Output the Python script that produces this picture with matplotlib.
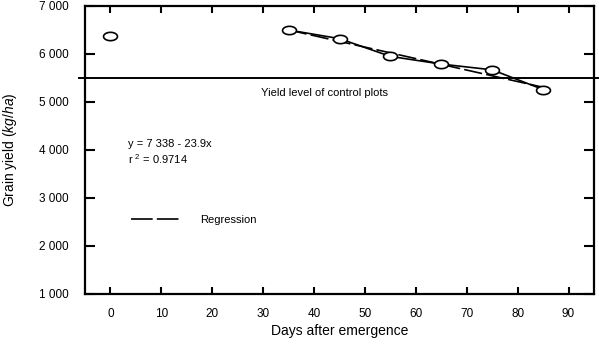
import numpy as np
import matplotlib
matplotlib.use("Agg")
import matplotlib.pyplot as plt
from matplotlib.path import Path
from matplotlib.lines import Line2D

plt.rcParams["font.family"] = ["Liberation Sans", "DejaVu Sans"]
plt.rcParams["mathtext.fontset"] = "custom"
plt.rcParams["mathtext.rm"] = "Liberation Sans"
plt.rcParams["mathtext.it"] = "Liberation Sans:italic"

# Grain yield observations by sowing/treatment day
days = [0, 35, 45, 55, 65, 75, 85]
grain_yield = [6380, 6500, 6320, 5950, 5790, 5670, 5260]

# Linear regression fitted to the late-treatment points
reg_intercept = 7338
reg_slope = -23.9
reg_r2 = 0.9714
reg_days = [35, 85]

control_level = 5500

x_ticks = [0, 10, 20, 30, 40, 50, 60, 70, 80, 90]
y_ticks = [1000, 2000, 3000, 4000, 5000, 6000, 7000]
y_tick_labels = ["1 000", "2 000", "3 000", "4 000", "5 000", "6 000", "7 000"]

# open elliptical marker (wider than tall)
t = np.linspace(0, 2 * np.pi, 60)
ellipse = Path(np.column_stack([np.cos(t), 0.6 * np.sin(t)]), closed=True)

fig = plt.figure(figsize=(5.99, 3.45), dpi=100)
ax = fig.add_axes([85 / 599, 1 - 294 / 345, 509 / 599, 288 / 345])

ax.set_xlim(-5, 95)
ax.set_ylim(1000, 7000)

# control plot reference level, running slightly past the frame
ax.axhline(control_level, xmin=-0.012, xmax=1.01, color="black", lw=1.4,
           clip_on=False, zorder=2)

# regression line
rx = np.array(reg_days, dtype=float)
ry = reg_intercept + reg_slope * rx
ax.plot(rx, ry, color="black", lw=1.2, dashes=(11, 2.5), zorder=3)

# measured yields, joined from day 35 onward
ax.plot(days[1:], grain_yield[1:], color="black", lw=1.2, zorder=3)
ax.plot(days, grain_yield, linestyle="none", marker=ellipse, markersize=10,
        markerfacecolor="white", markeredgecolor="black", markeredgewidth=1.2,
        zorder=4)

ax.text(42, 5190, "Yield level of control plots", ha="center", va="center",
        fontsize=8)
ax.text(3.5, 4125, "y = 7 338 - 23.9x", ha="left", va="center", fontsize=8)
ax.text(3.5, 3810, "r $^{2}$ = %.4f" % reg_r2, ha="left", va="center", fontsize=8)

handle = Line2D([], [], color="black", lw=1.2, dashes=(13, 2.5))
ax.legend([handle], ["Regression"], loc="center left",
          bbox_to_anchor=((131 - 85) / 509 - 0.020, (294 - 220) / 288),
          frameon=False, fontsize=8, handlelength=4.4, handletextpad=1.8)

ax.set_xticks(x_ticks)
ax.set_yticks(y_ticks)
ax.set_yticklabels(y_tick_labels)
ax.tick_params(axis="both", direction="in", width=1.5, labelsize=8.5)
ax.tick_params(axis="x", length=5, pad=10, top=True)
ax.tick_params(axis="y", length=7.5, pad=12, right=True)
for s in ax.spines.values():
    s.set_linewidth(1.6)

ax.set_xlabel("Days after emergence", fontsize=10, labelpad=3)
ax.set_ylabel(r"Grain yield ($\mathit{kg/ha}$)", fontsize=10, labelpad=14)

fig.savefig("out.png", dpi=100)
